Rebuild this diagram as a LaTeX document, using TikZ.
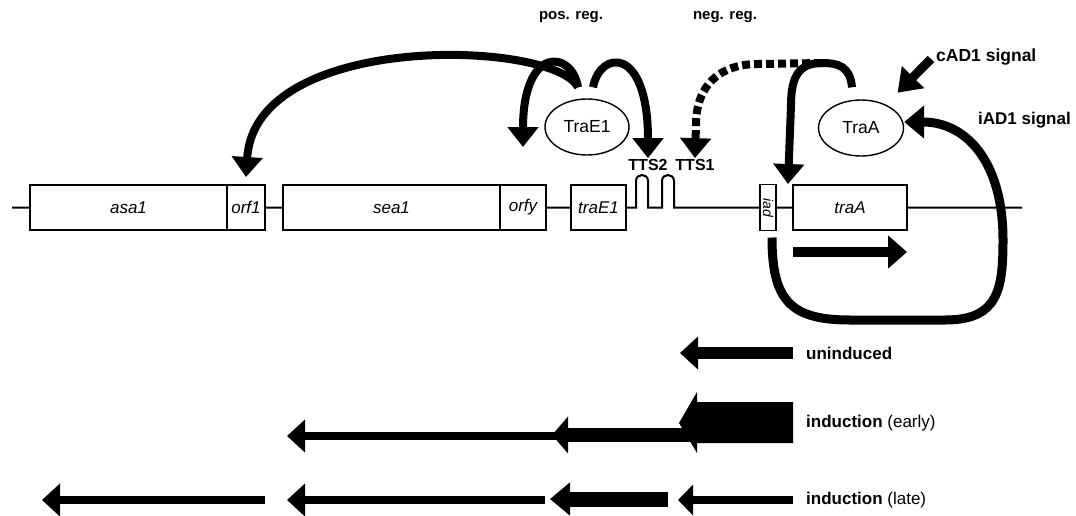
\documentclass[tikz,border=0pt]{standalone}
\usepackage{fontspec}
\setmainfont{Liberation Sans}
\usetikzlibrary{arrows.meta,positioning,shapes.geometric}

\begin{document}
\begin{tikzpicture}[x=1pt,y=-1pt,
  gene/.style={draw,line width=1.4pt,fill=white,outer sep=0pt,inner sep=0pt,
    minimum height=45pt,font=\fontsize{17}{20}\selectfont\itshape},
  prot/.style={ellipse,draw,line width=1.4pt,minimum width=84pt,minimum height=56pt,
    inner sep=0pt,font=\fontsize{17.5}{20}\selectfont},
  hd/.style={font=\fontsize{15}{18}\selectfont\bfseries,inner sep=1pt},
  sig/.style={font=\fontsize{17}{20}\selectfont\bfseries,inner sep=0pt,anchor=west},
  lbl/.style={font=\fontsize{17}{20}\selectfont,inner sep=0pt,anchor=west},
  reg/.style={line width=8pt,-{Triangle[width=30pt,length=20pt]}},
  trn/.style={line width=8pt,-{Triangle[width=32pt,length=18pt]}}]
  \useasboundingbox (0,0) rectangle (1076,515);

  % DNA with the two terminators
  \draw[line width=2pt] (12,207.5) -- (636,207.5) -- (636,181) .. controls (636,173) and (648,173) .. (648,181)
    -- (648,207.5) -- (662,207.5) -- (662,181) .. controls (662,173) and (674,173) .. (674,181)
    -- (674,207.5) -- (1022,207.5);

  \node[gene,minimum width=197pt] (asa) at (128.5,207.5) {asa1};
  \node[gene,minimum width=38pt,right=0pt of asa] (orf) {orf1};
  \node[gene,minimum width=217pt,right=18pt of orf] (sea) {sea1};
  \node[gene,minimum width=46pt,right=0pt of sea] (orfy) {orfy};
  \node[gene,minimum width=55pt,right=25pt of orfy] (trae) {traE1};
  \node[gene,minimum width=16pt,minimum height=46pt] (iad) at (768,207.5) {};
  \node[font=\fontsize{14}{16}\selectfont\itshape,rotate=-90,inner sep=0pt] at (iad) {iad};
  \node[gene,minimum width=114pt,right=17pt of iad] (traa) {traA};

  \node[hd,font=\fontsize{16}{18}\selectfont\bfseries] (tts2) at (648,165) {TTS2};
  \node[hd,font=\fontsize{16}{18}\selectfont\bfseries] (tts1) at (695,165) {TTS1};

  \node[prot] (e1) at (587,127) {TraE1};
  \node[prot,minimum width=85pt] (a) at (861,128) {TraA};

  \node[hd] (pos) at (571,17) {pos. reg.};
  \node[hd] (neg) at (725,17) {neg. reg.};
  \node[sig,font=\fontsize{17.5}{20}\selectfont\bfseries] (cad) at (936,57) {cAD1 signal};
  \node[sig] (iadsig) at (978,120) {iAD1 signal};

  % positive regulation by TraE1
  \draw[reg] ([xshift=-9pt,yshift=11pt]e1.north) .. controls (555,40) and (255,30) .. ([yshift=8pt]orf.north);
  \draw[reg] ([xshift=-9pt,yshift=11pt]e1.north) .. controls (572,50) and (523,45) .. ([yshift=38pt]orfy.north);
  \draw[reg] ([xshift=6pt,yshift=11pt]e1.north) .. controls (600,50) and (648,45) .. (tts2.north);

  % negative regulation by TraA
  \coordinate (negtop) at (822,63);
  \draw[line width=8pt] ([xshift=-9pt,yshift=12pt]a.north) .. controls (850,66) and (838,63) .. (negtop);
  \draw[reg] (negtop) .. controls (800,63) and (791,75) .. (791,105) -- ([xshift=-5pt,yshift=1pt]traa.north west);
  \draw[reg,dash pattern=on 8pt off 4pt] (negtop) -- (758,64) .. controls (720,64) and (696,85) .. (696,125) -- (tts1.north);

  % pheromone signals
  \draw[line width=9pt,-{Triangle[width=30pt,length=22pt]}] ([shift={(-5pt,-2pt)}]cad.west) -- ([shift={(6pt,15pt)}]a.north east);
  \draw[line width=9pt,-{Triangle[width=32pt,length=20pt]}] ([xshift=4pt,yshift=-7pt]iad.south)
    .. controls (772,300) and (790,320) .. (850,320) -- (945,320)
    .. controls (998,320) and (1003,290) .. (1003,240)
    .. controls (1003,160) and (965,122) .. ([yshift=6pt]a.east);

  % direction of traA
  \draw[line width=10pt,-{Triangle[width=32pt,length=19pt]}] ([yshift=-22pt]traa.south west) -- ([yshift=-22pt]traa.south east);

  % transcripts
  \node[lbl] (unind) at (806,353) {\bfseries uninduced};
  \node[lbl] (early) at (806,423) {\textbf{induction} (early)};
  \node[lbl] (late) at (806,500) {\textbf{induction} (late)};

  \draw[line width=12pt,-{Triangle[width=32pt,length=18pt]}] (793,353) -- (680,353);

  \draw[trn] (560,436) -- (287,436);
  \draw[line width=14pt,-{Triangle[width=36pt,length=16pt]}] (700,435) -- (552,435);
  \fill (793,402) -- (697,402) -- (697,392) -- (679,423) -- (697,453) -- (697,443) -- (793,443) -- cycle;

  \draw[trn] (265,500) -- (42,500);
  \draw[trn] (545,500) -- (287,500);
  \draw[line width=15pt,-{Triangle[width=32pt,length=20pt]}] (668,499) -- (550,499);
  \draw[line width=8pt,-{Triangle[width=30pt,length=15pt]}] (793,500) -- (678,500);
\end{tikzpicture}
\end{document}
